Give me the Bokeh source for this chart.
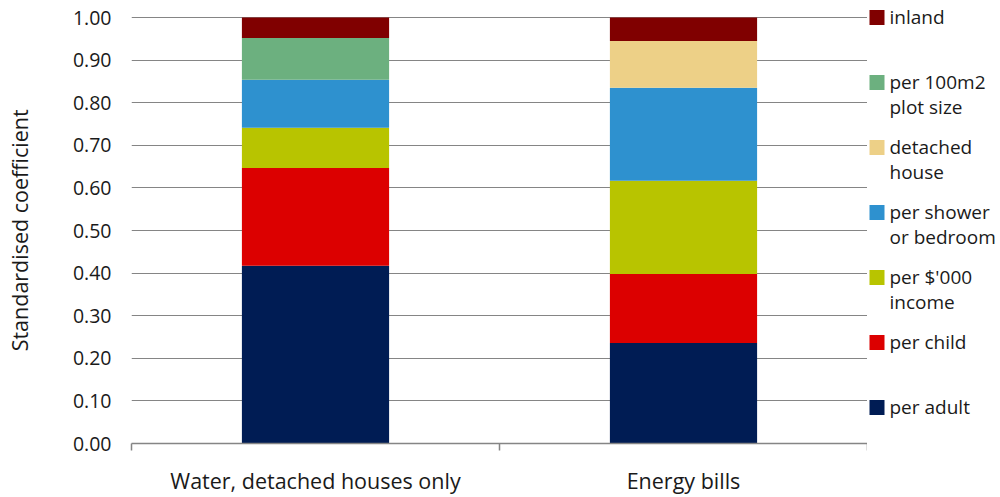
from bokeh.plotting import figure
from bokeh.models import Range1d, FixedTicker, NumeralTickFormatter, ColumnDataSource
from bokeh.layouts import row
from bokeh.core.properties import value
from bokeh.embed import file_html
from bokeh.resources import INLINE

# ---- data -------------------------------------------------------------
categories = ["Water, detached houses only", "Energy bills"]

# stack order, bottom to top
series_keys = ["adult", "child", "income", "shower", "detached", "plot", "inland"]
series_labels = ["per adult", "per child", "per $'000\nincome", "per shower\nor bedroom",
                 "detached\nhouse", "per 100m2\nplot size", "inland"]
series_colors = ["#001c54", "#dc0000", "#b8c400", "#2e91cf", "#edd087", "#6cb07f", "#800000"]

adult = [0.417, 0.236]
child = [0.230, 0.162]
income = [0.094, 0.219]
shower = [0.113, 0.218]
detached = [0.0, 0.110]
plot_size = [0.098, 0.0]
inland = [0.048, 0.055]

y_ticks = [0.0, 0.1, 0.2, 0.3, 0.4, 0.5, 0.6, 0.7, 0.8, 0.9, 1.0]

FONT = "Open Sans"
TEXT = "#1a1a1a"
GRID = "#858585"

# Both panels share the same vertical frame: 443 px tall, starting at the top
# edge; the value axis reaches 1.00 17 px below that edge.
FRAME_H = 443
TOP_PAD = 17
y_max = 1.0 + TOP_PAD / (FRAME_H - TOP_PAD)

# ---- main chart ---------------------------------------------------------
xpos = [i + 0.5 for i in range(len(categories))]
source = ColumnDataSource(dict(
    x=xpos, adult=adult, child=child, income=income, shower=shower,
    detached=detached, plot=plot_size, inland=inland,
))

p = figure(frame_width=736, frame_height=FRAME_H,
           x_range=Range1d(0, len(categories)), y_range=Range1d(0, y_max),
           toolbar_location=None, output_backend="svg",
           min_border_left=131, min_border_right=0, min_border_top=0, min_border_bottom=54)
p.outline_line_color = None
p.background_fill_color = "white"
p.border_fill_color = "white"

p.vbar_stack(series_keys, x="x", width=0.4, color=series_colors, line_color=None, source=source)

p.xgrid.grid_line_color = None
p.ygrid.grid_line_color = GRID
p.ygrid.grid_line_width = 1
p.ygrid.ticker = FixedTicker(ticks=y_ticks)

ya = p.yaxis[0]
ya.ticker = FixedTicker(ticks=y_ticks)
ya.formatter = NumeralTickFormatter(format="0.00")
ya.axis_line_color = None
ya.major_tick_line_color = None
ya.minor_tick_line_color = None
ya.major_tick_out = 0
ya.major_label_standoff = 20
ya.major_label_text_font = FONT
ya.major_label_text_font_size = "19.5px"
ya.major_label_text_color = TEXT
# trailing no-break spaces centre the title on the 0-1 span rather than the frame
ya.axis_label = "Standardised coefficient\u00a0\u00a0\u00a0"
ya.axis_label_text_font = FONT
ya.axis_label_text_font_size = "21.5px"
ya.axis_label_text_font_style = "normal"
ya.axis_label_text_color = TEXT
ya.axis_label_standoff = 36

xa = p.xaxis[0]
xa.ticker = FixedTicker(ticks=xpos, minor_ticks=list(range(len(categories) + 1)))
xa.major_label_overrides = {xv: c for xv, c in zip(xpos, categories)}
xa.axis_line_color = GRID
xa.axis_line_width = 1.5
xa.major_tick_line_color = None
xa.major_tick_out = 0
xa.major_tick_in = 0
xa.minor_tick_line_color = GRID
xa.minor_tick_line_width = 1.5
xa.minor_tick_out = 7
xa.minor_tick_in = 0
xa.major_label_standoff = 15
xa.major_label_text_font = FONT
xa.major_label_text_font_size = "21.5px"
xa.major_label_text_color = TEXT

# ---- legend panel (data units = pixels from the top edge) ----------------------
leg = figure(frame_width=133, frame_height=FRAME_H,
             x_range=Range1d(0, 133), y_range=Range1d(FRAME_H, 0),
             toolbar_location=None, output_backend="svg",
             min_border=0, min_border_left=0, min_border_right=0,
             min_border_top=0, min_border_bottom=54)
leg.outline_line_color = None
leg.xaxis.visible = False
leg.yaxis.visible = False
leg.xgrid.grid_line_color = None
leg.ygrid.grid_line_color = None

top0, step, sw = 9.5, 65.0, 15.0
sx, sy, scol = [], [], []
tx, ty, tt = [], [], []
for i, (lab, col) in enumerate(zip(reversed(series_labels), reversed(series_colors))):
    top = top0 + step * i
    sx.append(2 + sw / 2)
    sy.append(top + sw / 2)
    scol.append(col)
    for j, line in enumerate(lab.split("\n")):
        tx.append(22)
        ty.append(top + sw - 8 + 24.5 * j)
        tt.append(line)

leg.rect(x=sx, y=sy, width=sw, height=sw, color=scol, line_color=None)
leg.text(x=tx, y=ty, text=tt, text_font=value(FONT), text_font_size="19px",
         text_color=TEXT, text_baseline="alphabetic", text_align="left")

layout = row(p, leg, spacing=0)
open("out.html", "w").write(file_html(layout, INLINE))
